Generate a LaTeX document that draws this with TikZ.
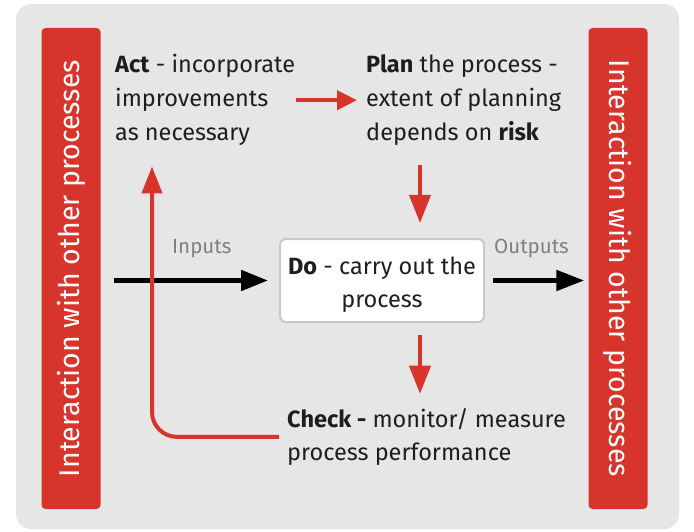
\documentclass[tikz,border=0pt]{standalone}
\usepackage{fontspec}
\setmainfont{Fira Sans}
\usetikzlibrary{arrows.meta}
\definecolor{pdcared}{RGB}{215,52,43}
\definecolor{bggray}{RGB}{230,230,230}
\definecolor{boxline}{RGB}{200,200,200}
\definecolor{txtgray}{RGB}{128,128,128}
\definecolor{txtdark}{RGB}{30,30,30}
\tikzset{
  bar/.style={fill=pdcared, rounded corners=4pt, inner sep=0pt, text=white,
    minimum width=481pt, minimum height=59pt, font=\fontsize{28.5}{32}\selectfont},
  stagetxt/.style={anchor=base west, inner sep=0pt, text=txtdark},
  dobox/.style={fill=white, draw=boxline, line width=2pt, rounded corners=6pt,
    minimum width=204pt, minimum height=83pt, inner sep=0pt, text=txtdark,
    text height=20pt, text depth=33pt},
  flowlbl/.style={anchor=base west, inner sep=0pt, text=txtgray, font=\fontsize{20.5}{24}\selectfont},
  redline/.style={draw=pdcared, line width=4pt},
  blackline/.style={draw=black, line width=5pt},
}
\newcommand{\stagefont}[1]{\fontsize{23.5}{#1}\selectfont}
\begin{document}
\begin{tikzpicture}[x=1pt,y=-1pt]
\useasboundingbox (0,0) rectangle (694,532);
\fill[bggray, rounded corners=15pt] (16,4) rectangle (679,529);

\node[bar, rotate=90] (lbar) at (71,268.5) {Interaction with other processes};
\node[bar, rotate=-90] (rbar) at (618,268.5) {Interaction with other processes};

\node[stagetxt] (act) at (115,73) {\stagefont{34}\begin{tabular}[t]{@{}l@{}}\textbf{Act} - incorporate\\improvements\\as necessary\end{tabular}};
\node[stagetxt] (plan) at (366,73) {\stagefont{34}\begin{tabular}[t]{@{}l@{}}\textbf{Plan} the process -\\extent of planning\\depends on \textbf{risk}\end{tabular}};
\node[dobox] (do) at (382,280.5) {\stagefont{33}\begin{tabular}[t]{@{}c@{}}\textbf{Do} - carry out the\\process\end{tabular}};
\node[stagetxt] (check) at (287,427) {\stagefont{33}\begin{tabular}[t]{@{}l@{}}\textbf{Check -} monitor/ measure\\process performance\end{tabular}};

\node[flowlbl] (inputs) at (172,254) {Inputs};
\node[flowlbl] (outputs) at (494,254) {Outputs};

\coordinate (colx) at (420,0);
\coordinate (loopx) at (152,0);

% black flow
\draw[blackline, -{Triangle[length=27pt,width=20pt]}, shorten <=13pt, shorten >=11pt]
  (lbar.south |- do.west) -- (do.west);
\draw[blackline, -{Triangle[length=28pt,width=20pt]}, shorten <=8pt, shorten >=4pt]
  (do.east) -- (rbar.south |- do.east);

% red cycle
\draw[redline, -{Triangle[length=20pt,width=19pt]}, shorten <=1pt, shorten >=9pt]
  (act.east) -- (plan.west);
\draw[redline, -{Triangle[length=28pt,width=21pt]}, shorten <=14pt, shorten >=15pt]
  (plan.south -| colx) -- (do.north -| colx);
\draw[redline, -{Triangle[length=28pt,width=21pt]}, shorten <=12pt, shorten >=10pt]
  (do.south -| colx) -- (check.north -| colx);
\draw[redline, rounded corners=25pt, -{Triangle[length=27pt,width=20pt]}, shorten <=8pt, shorten >=15pt]
  (check.west) -- (check.west -| loopx) -- (loopx |- act.south);
\end{tikzpicture}
\end{document}
